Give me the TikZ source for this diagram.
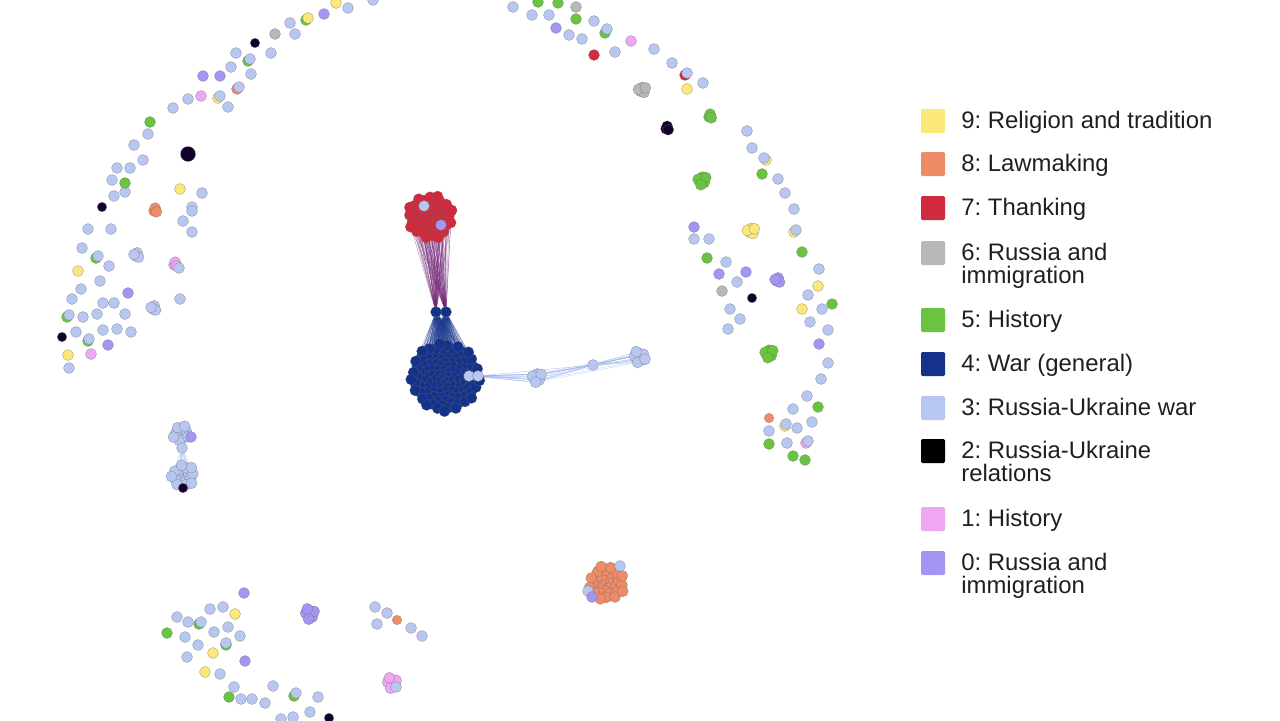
\documentclass[tikz,border=0pt]{standalone}
\usepackage{fontspec}
\setsansfont{Liberation Sans}
\usetikzlibrary{positioning}

\pgfdeclarelayer{bg}
\pgfsetlayers{bg,main}

\definecolor{ylw}{HTML}{FBE879}
\definecolor{orng}{HTML}{EF8B67}
\definecolor{rd}{HTML}{D22A3D}
\definecolor{gry}{HTML}{B8B8B8}
\definecolor{grn}{HTML}{6AC43F}
\definecolor{nvy}{HTML}{14328B}
\definecolor{lblu}{HTML}{B8C7F2}
\definecolor{blk}{HTML}{000000}
\definecolor{inky}{HTML}{13002B}
\definecolor{pnk}{HTML}{EFA7F3}
\definecolor{prpl}{HTML}{A395F3}
\definecolor{tiepurple}{HTML}{6E2070}
\definecolor{tieblue}{HTML}{98AEEE}

\tikzset{
  dot/.style={circle, inner sep=0pt, minimum size=0.22cm, draw=black!60, line width=0.2pt, draw opacity=0.6},
  smalldot/.style={dot, minimum size=0.19cm},
  bigdot/.style={dot, minimum size=0.28cm},
  tie/.style={line width=0.25pt},
  key/.style={rectangle, rounded corners=0.8pt, minimum size=0.48cm, inner sep=0pt},
  keytext/.style={anchor=base west, inner sep=0pt, text=black!88, font=\sffamily\fontsize{13.6pt}{13.6pt}\selectfont\frenchspacing},
}

% sunflower packing of one topic cluster: name, colour, x, y, count, spread
\newcommand{\blob}[6]{%
  \foreach \i in {1,...,#5}{
    \pgfmathsetmacro\rr{#6*sqrt(\i)}
    \pgfmathsetmacro\aa{137.508*\i}
    \node[dot, fill=#2] (#1\i) at ({#3+\rr*cos(\aa)},{#4+\rr*sin(\aa)}) {};
  }}

\begin{document}
\begin{tikzpicture}[x=0.02cm, y=-0.02cm]
  \useasboundingbox (0,0) rectangle (1280,720);

  % nodes partly hidden behind others
  \foreach \px/\py/\col [count=\i] in {248/61/grn, 218/98/ylw, 306/20/grn, 605/33/grn, 199/624/grn, 294/696/grn, 226/645/grn, 96/258/grn, 67/317/grn, 88/341/grn, 766/160/ylw, 794/232/ylw, 785/426/ylw, 685/75/rd, 806/443/pnk, 237/89/orng}
    \node[dot, fill=\col] (under\i) at (\px,\py) {};

  % topic 3: Russia-Ukraine war
  \foreach \px/\py [count=\i] in {348/8, 373/0, 290/23, 295/34, 236/53, 250/59, 271/53, 231/67, 251/74, 239/87,
      220/96, 188/99, 228/107, 173/108, 148/134, 134/145, 143/160, 117/168, 130/168, 112/180, 125/192, 114/196,
      202/193, 192/207, 192/211, 183/221, 192/232, 88/229, 111/229, 82/248, 98/256, 109/266, 100/281, 81/289,
      72/299, 103/303, 114/303, 180/299, 69/315, 83/317, 97/314, 125/314, 76/332, 89/339, 103/330, 117/329,
      131/332, 69/368,
      513/7, 532/15, 549/15, 594/21, 607/29, 569/35, 582/39, 615/52, 654/49, 672/63, 687/73, 703/83, 747/131,
      752/148, 764/158, 778/179, 785/193, 794/209, 796/230, 694/239, 709/239, 726/262, 819/269, 737/282,
      808/295, 822/309, 730/309, 740/319, 728/329, 810/322, 828/330, 828/363, 821/379, 807/396, 793/409,
      786/424, 797/428, 812/422, 769/431, 787/443, 808/441,
      210/609, 223/607, 177/617, 188/622, 201/622, 185/637, 214/632, 228/627, 240/636, 198/645, 226/643,
      187/657, 220/674, 234/687, 241/699, 252/699, 265/703, 273/686, 296/693, 318/697, 310/712, 293/717,
      281/719, 375/607, 387/613, 377/624, 411/628, 422/636}
    \node[dot, fill=lblu] (ruwar\i) at (\px,\py) {};

  % topic 9: Religion and tradition
  \foreach \px/\py [count=\i] in {336/3, 308/18, 180/189, 78/271, 68/355, 687/89, 818/286, 802/309, 235/614, 213/653, 205/672}
    \node[dot, fill=ylw] (relig\i) at (\px,\py) {};
  % topic 0: Russia and immigration
  \foreach \px/\py [count=\i] in {324/14, 203/76, 220/76, 128/293, 108/345, 556/28, 694/227, 719/274, 746/272, 819/344, 244/593, 245/661}
    \node[dot, fill=prpl] (rusimmz\i) at (\px,\py) {};
  % topic 1: History
  \foreach \px/\py [count=\i] in {201/96, 91/354, 631/41}
    \node[dot, fill=pnk] (histone\i) at (\px,\py) {};
  % topic 5: History
  \foreach \px/\py [count=\i] in {150/122, 125/183, 538/2, 558/3, 576/19, 762/174, 802/252, 707/258, 832/304, 818/407, 769/444, 793/456, 805/460, 167/633, 229/697}
    \node[dot, fill=grn] (histfive\i) at (\px,\py) {};
  % topic 6: Russia and immigration
  \foreach \px/\py [count=\i] in {275/34, 576/7, 722/291}
    \node[dot, fill=gry] (rusimmsix\i) at (\px,\py) {};
  % topic 2: Russia-Ukraine relations
  \foreach \px/\py [count=\i] in {255/43, 102/207, 62/337, 752/298, 329/718}
    \node[smalldot, fill=inky] (rurel\i) at (\px,\py) {};
  \node[bigdot, fill=inky, minimum size=0.3cm] (rurelbig) at (188,154) {};
  % topics 8 and 7, single nodes
  \foreach \px/\py [count=\i] in {397/620, 769/418}
    \node[smalldot, fill=orng] (law\i) at (\px,\py) {};
  \node[dot, fill=rd] (thank1) at (594,55) {};

  % small clumps
  \blob{rusimmsixc}{gry}{642}{90}{5}{1.8}
  \blob{histfivea}{grn}{710}{116}{3}{1.3}
  \blob{histfiveb}{grn}{702}{180}{6}{2}
  \blob{histfivec}{grn}{769}{353}{6}{2}
  \blob{religc}{ylw}{751}{231}{5}{1.8}
  \blob{rusimmzc}{prpl}{778}{280}{4}{1.5}
  \blob{rurelc}{inky}{667}{128}{3}{1.2}
  \blob{lawa}{orng}{155}{210}{3}{1.3}
  \blob{ruwarC}{lblu}{137}{255}{4}{1.5}
  \blob{ruwarD}{lblu}{154}{308}{4}{1.5}
  \blob{histonea}{pnk}{175}{264}{3}{1.3}
  \node[dot, fill=lblu] (ruwarE) at (179,268) {};
  \blob{rusimmzd}{prpl}{310}{614}{7}{2.2}
  \blob{histoneb}{pnk}{392}{683}{7}{2.2}
  \node[dot, fill=lblu] (ruwarF) at (396,687) {};

  % left pair of clusters
  \blob{ruwarU}{lblu}{181}{434}{10}{2.7}
  \node[dot, fill=prpl] (rusimmzU) at (191,437) {};
  \node[dot, fill=lblu] (ruwarhub) at (182,448) {};
  \blob{ruwarL}{lblu}{183}{476}{18}{2.8}
  \node[smalldot, fill=inky] (rurelL) at (183,488) {};

  % main clusters
  \blob{thankc}{rd}{430}{217}{47}{3.3}
  \node[dot, fill=lblu] (ruwarT) at (424,206) {};
  \node[dot, fill=prpl] (rusimmzT) at (441,225) {};
  \node[dot, fill=nvy] (warhubA) at (436,312) {};
  \node[dot, fill=nvy] (warhubB) at (446,312) {};
  \blob{warc}{nvy}{445}{377}{110}{3.3}
  \node[dot, fill=lblu] (warlbA) at (469,376) {};
  \node[dot, fill=lblu] (warlbB) at (478,376) {};
  \blob{ruwarA}{lblu}{537}{377}{6}{2.2}
  \node[dot, fill=lblu] (ruwarmid) at (593,365) {};
  \blob{ruwarB}{lblu}{639}{357}{8}{2.3}
  \blob{lawc}{orng}{607}{583}{30}{3.3}
  \node[dot, fill=lblu] (ruwarO1) at (620,566) {};
  \node[dot, fill=lblu] (ruwarO2) at (588,591) {};
  \node[dot, fill=prpl] (rusimmzO) at (592,597) {};

  \begin{pgfonlayer}{bg}
    \foreach \i in {1,...,47} {
      \draw[tie, tiepurple, opacity=0.45] (thankc\i) -- (warhubA);
      \draw[tie, tiepurple, opacity=0.45] (thankc\i) -- (warhubB);
    }
    \foreach \i in {1,...,110} {
      \draw[tie, nvy, opacity=0.35] (warc\i) -- (warhubA);
      \draw[tie, nvy, opacity=0.35] (warc\i) -- (warhubB);
    }
    \foreach \i in {1,...,6} {
      \draw[tie, tieblue, opacity=0.7] (warlbA) -- (ruwarA\i);
      \draw[tie, tieblue, opacity=0.7] (warlbB) -- (ruwarA\i);
      \draw[tie, tieblue, opacity=0.7] (ruwarA\i) -- (ruwarmid);
      \draw[tie, tieblue, opacity=0.5] (ruwarA\i) -- (ruwarB\i);
    }
    \draw[tie, tieblue, opacity=0.7] (warlbB) -- (ruwarmid);
    \foreach \i in {1,...,8}
      \draw[tie, tieblue, opacity=0.7] (ruwarmid) -- (ruwarB\i);
    \foreach \i in {1,...,10}
      \draw[tie, tieblue, opacity=0.4] (ruwarU\i) -- (ruwarhub);
    \foreach \i in {1,...,18}
      \draw[tie, tieblue, opacity=0.4] (ruwarhub) -- (ruwarL\i);
  \end{pgfonlayer}

  % legend
  \foreach \yy/\col/\txt in {128/ylw/9: Religion and tradition, 171/orng/8: Lawmaking, 215/rd/7: Thanking,
      260/gry/6: Russia and, 327/grn/5: History, 371/nvy/4: War (general), 415/lblu/3: Russia-Ukraine war,
      458/blk/2: Russia-Ukraine, 526/pnk/1: History, 570/prpl/0: Russia and} {
    \node[key, fill=\col] (key\col) at (933,{\yy-7}) {};
    \node[keytext] (label\col) at (961,\yy) {\txt};
  }
  \node[keytext] (labelgryb) at (961,283) {immigration};
  \node[keytext] (labelblkb) at (961,481) {relations};
  \node[keytext] (labelprplb) at (961,593) {immigration};
\end{tikzpicture}
\end{document}
